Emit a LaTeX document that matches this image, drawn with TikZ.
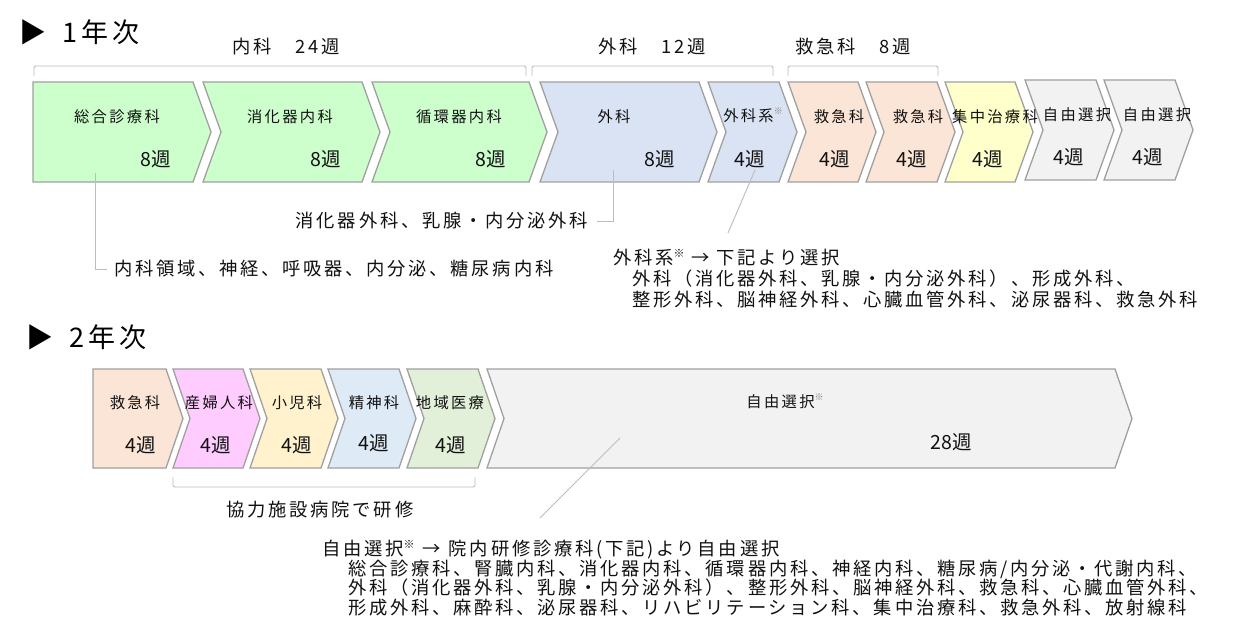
\documentclass[tikz,border=0pt]{standalone}
\usepackage{fontspec}
\setmainfont{Noto Sans CJK JP}[LetterSpace=15]
\newfontfamily\wkfont{Noto Sans CJK JP}
\usetikzlibrary{calc}
\definecolor{cgreen}{HTML}{CCFFCC}
\definecolor{cblue}{HTML}{DAE3F3}
\definecolor{cpeach}{HTML}{FBE5D6}
\definecolor{cyellow}{HTML}{FFFFCC}
\definecolor{cgray}{HTML}{F2F2F2}
\definecolor{cmag}{HTML}{FFCCFF}
\definecolor{ccream}{HTML}{FFF2CC}
\definecolor{csky}{HTML}{DEEBF7}
\definecolor{cmint}{HTML}{E2F0D9}
\definecolor{bordergray}{HTML}{A0A0A0}
\definecolor{linegray}{HTML}{BDBDBD}
\definecolor{txt}{HTML}{111111}
\newcommand\chevron[8]{% name, x0, x1, ytop, ybot, depth, notch, fill
  \filldraw[chev, fill=#8] (#2,#4) -- (#3,#4) -- ({#3+#6},{(#4+#5)/2}) -- (#3,#5) -- (#2,#5) -- ({#2+#7},{(#4+#5)/2}) -- cycle;
  \coordinate (#1) at ({(#2+#3)/2},{(#4+#5)/2});
}
\newcommand\komebox{\raisebox{0.45em}{\fontsize{9}{9}\selectfont\color{gray}※}}
\newcommand\komeann{\raisebox{0.4em}{\fontsize{11}{11}\selectfont ※}}
\tikzset{
  chev/.style={draw=bordergray, line width=1.3pt, line join=miter},
  lbl/.style={font=\fontsize{15.3}{15}\selectfont, inner sep=0, text=txt},
  wk/.style={font=\wkfont\fontsize{19.5}{19}\selectfont, inner sep=0, text=txt},
  ann/.style={font=\fontsize{18.3}{18}\selectfont, inner sep=0, text=txt},
  ttl/.style={font=\fontsize{27}{27}\selectfont, inner sep=0, text=black, anchor=west},
  conn/.style={draw=linegray, line width=0.9pt},
  brk/.style={draw=linegray, line width=0.9pt, rounded corners=2pt},
}
\begin{document}
\begin{tikzpicture}[x=1pt,y=-1pt]
\useasboundingbox[fill=white] (0,0) rectangle (1233,644);

% ---------- Year 1 ----------
\node[ttl] (t1) at (19,32) {▶\hspace{16pt}1年次};

\node[ann] (h1) at (286,47) {内科　24週};
\node[ann] (h2) at (652,47) {外科　12週};
\node[ann] (h3) at (853,47) {救急科　8週};

\draw[brk] (34,76) -- (34,66) -- (526,66) -- (526,76);
\draw[brk] (532,76) -- (532,66) -- (773,66) -- (773,76);
\draw[brk] (788,76) -- (788,66) -- (938,66) -- (938,76);

\chevron{b1}{33}{193}{82}{182}{18}{0}{cgreen}
\chevron{b2}{203}{362}{82}{182}{18}{18}{cgreen}
\chevron{b3}{372}{529}{82}{182}{18}{18}{cgreen}
\chevron{b4}{540}{699}{82}{182}{18}{18}{cblue}
\chevron{b5}{708}{779}{82}{182}{18}{18}{cblue}
\chevron{b6}{788}{858}{82}{182}{18}{18}{cpeach}
\chevron{b7}{866}{937}{82}{182}{18}{18}{cpeach}
\chevron{b8}{945}{1015}{82}{182}{18}{18}{cyellow}
\chevron{b9}{1025}{1096}{80}{180}{18}{18}{cgray}
\chevron{b10}{1104}{1175}{80}{180}{18}{18}{cgray}

\node[lbl] (b1n) at (117,117) {総合診療科};
\node[wk]  (b1w) at (156,159) {8週};
\node[lbl] (b2n) at (290,117) {消化器内科};
\node[wk]  (b2w) at (326,159) {8週};
\node[lbl] (b3n) at (459,117) {循環器内科};
\node[wk]  (b3w) at (491,159) {8週};
\node[lbl] (b4n) at (614,117) {外科};
\node[wk]  (b4w) at (660,159) {8週};
\node[lbl] (b5n) at (753,115) {外科系\komebox};
\node[wk]  (b5w) at (750,159) {4週};
\node[lbl] (b6n) at (839,117) {救急科};
\node[wk]  (b6w) at (835,159) {4週};
\node[lbl] (b7n) at (918,117) {救急科};
\node[wk]  (b7w) at (912,159) {4週};
\node[lbl] (b8n) at (995,117) {集中治療科};
\node[wk]  (b8w) at (988,159) {4週};
\node[lbl] (b9n) at (1077,115) {自由選択};
\node[wk]  (b9w) at (1069,157) {4週};
\node[lbl] (b10n) at (1157,115) {自由選択};
\node[wk]  (b10w) at (1148,157) {4週};

% annotations year 1
\coordinate (s1) at (95,173);
\node[ann, anchor=west] (n1) at (114,269) {内科領域、神経、呼吸器、内分泌、糖尿病内科};
\draw[conn] (s1) |- ([xshift=-7pt]n1.west);

\coordinate (s2) at (613,170);
\node[ann, anchor=east] (n2) at (588,221) {消化器外科、乳腺・内分泌外科};
\draw[conn] (s2) |- ([xshift=9pt]n2.east);

\coordinate (s3) at (755,170);
\coordinate (e3) at (728,233);
\draw[conn] (s3) -- (e3);
\node[ann, anchor=west] (n3a) at (613,258) {外科系\komeann\hspace{7pt}→\hspace{7pt}下記より選択};
\node[ann, anchor=west] (n3b) at (632,279) {外科（消化器外科、乳腺・内分泌外科）、形成外科、};
\node[ann, anchor=west] (n3c) at (632,300) {整形外科、脳神経外科、心臓血管外科、泌尿器科、救急外科};

% ---------- Year 2 ----------
\node[ttl] (t2) at (26,337) {▶\hspace{16pt}2年次};

\chevron{c1}{93}{166}{369}{468}{17}{0}{cpeach}
\chevron{c2}{173}{243}{369}{468}{17}{17}{cmag}
\chevron{c3}{250}{321}{369}{468}{17}{17}{ccream}
\chevron{c4}{328}{399}{369}{468}{17}{17}{csky}
\chevron{c5}{407}{478}{369}{468}{17}{17}{cmint}
\chevron{c6}{487}{1115}{369}{468}{17}{17}{cgray}

\node[lbl] (c1n) at (135,403) {救急科};
\node[wk]  (c1w) at (141,445) {4週};
\node[lbl] (c2n) at (219,403) {産婦人科};
\node[wk]  (c2w) at (216,445) {4週};
\node[lbl] (c3n) at (297,403) {小児科};
\node[wk]  (c3w) at (297,445) {4週};
\node[lbl] (c4n) at (374,403) {精神科};
\node[wk]  (c4w) at (374,443) {4週};
\node[lbl] (c5n) at (450,403) {地域医療};
\node[wk]  (c5w) at (451,445) {4週};
\node[lbl] (c6n) at (785,401) {自由選択\komebox};
\node[wk]  (c6w) at (951,442) {28週};

\draw[brk] (173,477) -- (173,487) -- (475,487) -- (475,477);
\node[ann] (n5) at (320,510) {協力施設病院で研修};

\coordinate (s4) at (620,438);
\coordinate (e4) at (540,518);
\draw[conn] (s4) -- (e4);
\node[ann, anchor=west] (n4a) at (322,550) {自由選択\komeann\hspace{8pt}→\hspace{8pt}院内研修診療科(下記)より自由選択};
\node[ann, anchor=west] (n4b) at (348,569) {総合診療科、腎臓内科、消化器内科、循環器内科、神経内科、糖尿病/内分泌・代謝内科、};
\node[ann, anchor=west] (n4c) at (348,588) {外科（消化器外科、乳腺・内分泌外科）、整形外科、脳神経外科、救急科、心臓血管外科、};
\node[ann, anchor=west] (n4d) at (348,608) {形成外科、麻酔科、泌尿器科、リハビリテーション科、集中治療科、救急外科、放射線科};
\end{tikzpicture}
\end{document}
